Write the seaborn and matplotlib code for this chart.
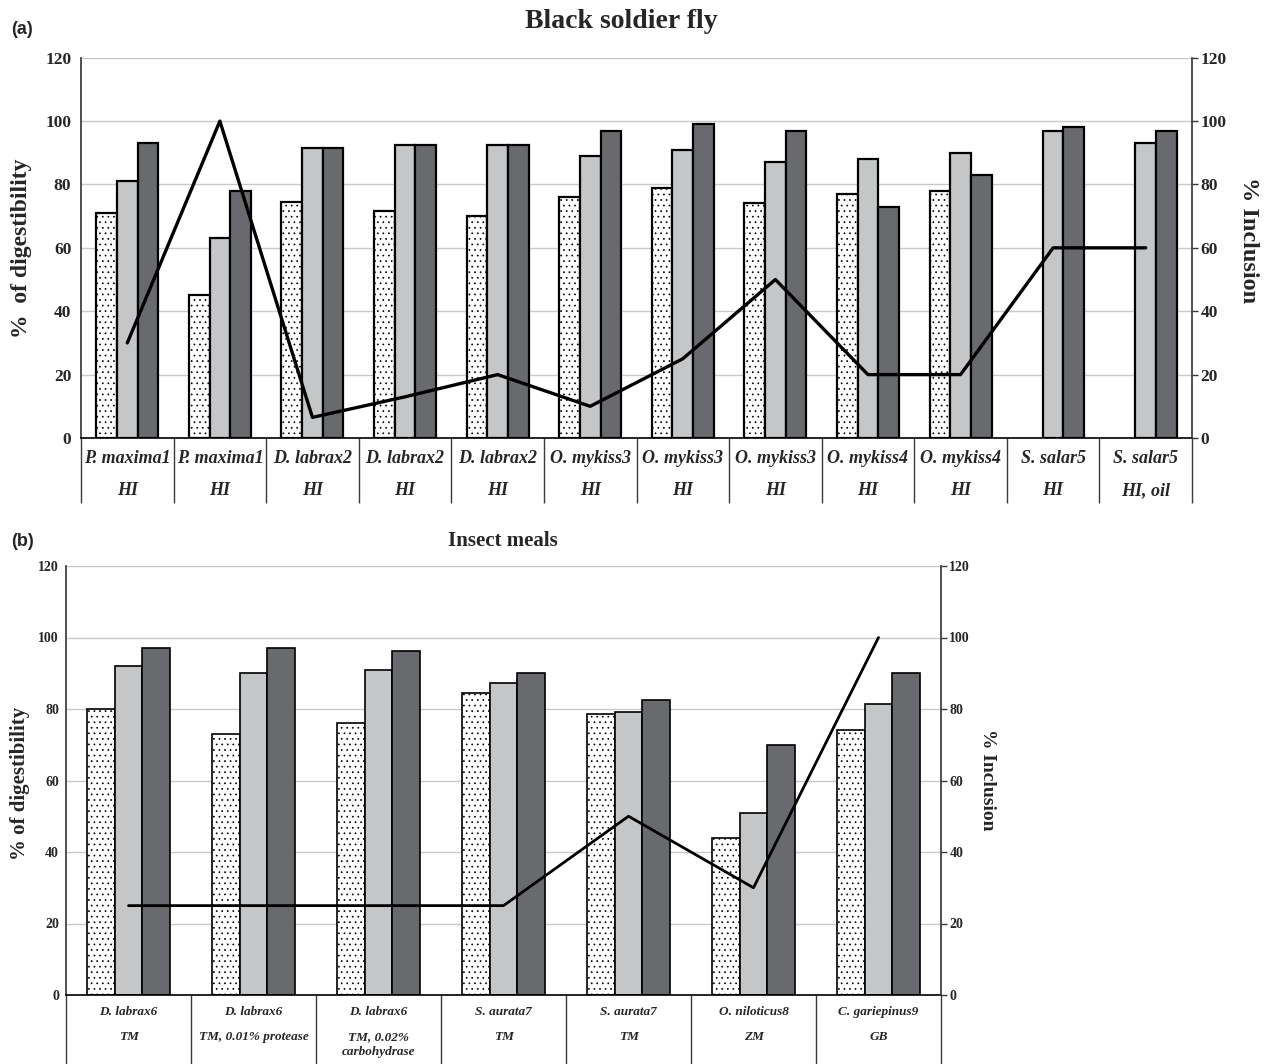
import numpy as np
import pandas as pd
import matplotlib
matplotlib.use("Agg")
import matplotlib.pyplot as plt
import seaborn as sns

# -- Data ---------------------------------------------------------------

# (a) Black soldier fly
bsf_species = ['P. maxima1', 'P. maxima1', 'D. labrax2', 'D. labrax2', 'D. labrax2',
               'O. mykiss3', 'O. mykiss3', 'O. mykiss3', 'O. mykiss4', 'O. mykiss4',
               'S. salar5', 'S. salar5']
bsf_feed = ['HI', 'HI', 'HI', 'HI', 'HI', 'HI', 'HI', 'HI', 'HI', 'HI', 'HI', 'HI, oil']
bsf_dotted = [71, 45, 74.5, 71.5, 70, 76, 79, 74, 77, 78, np.nan, np.nan]
bsf_light = [81, 63, 91.5, 92.5, 92.3, 89, 91, 87, 88, 90, 97, 93]
bsf_dark = [93, 78, 91.5, 92.5, 92.3, 97, 99, 97, 73, 83, 98, 97]
bsf_inclusion = [30, 100, 6.5, 13, 20, 10, 25, 50, 20, 20, 60, 60]

# (b) Insect meals
im_species = ['D. labrax6', 'D. labrax6', 'D. labrax6', 'S. aurata7', 'S. aurata7',
              'O. niloticus8', 'C. gariepinus9']
im_feed = ['TM', 'TM, 0.01% protease', 'TM, 0.02%\ncarbohydrase', 'TM', 'TM', 'ZM', 'GB']
im_dotted = [80, 73, 76, 84.5, 78.5, 44, 74]
im_light = [92, 90, 91, 87.4, 79.3, 50.8, 81.4]
im_dark = [97.2, 97.2, 96.2, 90, 82.5, 70, 90]
im_inclusion = [25, 25, 25, 25, 50, 30, 100]

MEASURES = ['dotted', 'light', 'dark']
BAR_COLORS = ['white', '#c5c6c8', '#696a6e']

# Global style
sns.set_theme(style="white")
plt.rcParams.update({
    'font.family': ['Liberation Serif', 'DejaVu Serif'],
    'font.weight': 'bold',
    'axes.labelweight': 'bold',
    'hatch.linewidth': 0.5,
    'hatch.color': 'black',
})

W, H = 1266, 1064


def draw_panel(ax, species, feed, values, inclusion, cfg):
    n = len(species)
    df = pd.concat([
        pd.DataFrame({'group': np.arange(n), 'measure': m, 'value': v})
        for m, v in zip(MEASURES, values)
    ]).dropna()

    sns.barplot(data=df, x='group', y='value', hue='measure', hue_order=MEASURES,
                order=list(range(n)), palette=dict(zip(MEASURES, BAR_COLORS)),
                width=0.67, saturation=1, edgecolor='black', linewidth=cfg['bar_lw'],
                legend=False, ax=ax)
    for bar in ax.containers[0]:
        bar.set_hatch('...')

    ax.set_ylim(0, 120)
    ax.set_yticks(range(0, 121, 20))
    ax.set_xlim(-0.5, n - 0.5)
    ax.set_xlabel('')
    ax.set_ylabel('')
    ax.yaxis.grid(True, color='#c9c9c9', linewidth=1)
    ax.set_axisbelow(True)
    ax.tick_params(axis='x', length=0, labelbottom=False)
    ax.tick_params(axis='y', length=0, pad=cfg['left_pad'], labelsize=cfg['tick_fs'])
    for s in ['top', 'right']:
        ax.spines[s].set_visible(False)
    ax.spines['left'].set_color('#3a3a3a')
    ax.spines['bottom'].set_color('black')
    ax.spines['bottom'].set_linewidth(1.2)

    # inclusion line on secondary axis
    ax2 = ax.twinx()
    sns.lineplot(x=np.arange(n), y=inclusion, color='black',
                 linewidth=cfg['line_lw'], ax=ax2)
    ax2.set_ylim(0, 120)
    ax2.set_yticks(range(0, 121, 20))
    ax2.set_xlim(-0.5, n - 0.5)
    ax2.tick_params(axis='y', length=4, width=1, direction='out', pad=2,
                    labelsize=cfg['tick_fs'], color='#3a3a3a')
    for s in ['top', 'left', 'bottom']:
        ax2.spines[s].set_visible(False)
    ax2.spines['right'].set_color('#3a3a3a')

    # category table under the axis
    xt = ax.get_xaxis_transform()
    ax.vlines(np.arange(n + 1) - 0.5, cfg['table_bottom'], 0, transform=xt,
              colors='#3a3a3a', linewidth=1, clip_on=False)
    for i in range(n):
        ax.text(i, cfg['species_y'], species[i], transform=xt, ha='center', va='center',
                style='italic', fontsize=cfg['cat_fs'])
        ax.text(i, cfg['feed_y'], feed[i], transform=xt, ha='center', va='top',
                style='italic', fontsize=cfg['cat_fs'], linespacing=1.25)

    ax.set_ylabel(cfg['ylabel'], fontsize=cfg['label_fs'], fontweight='bold',
                  ha='center', va='center')
    ax.yaxis.set_label_coords(*cfg['ylabel_xy'])
    ax2.set_ylabel('% Inclusion', fontsize=cfg['label_fs2'], fontweight='bold',
                   rotation=270, ha='center', va='center')
    ax2.yaxis.set_label_coords(*cfg['ylabel2_xy'])
    return ax2


fig = plt.figure(figsize=(W / 100, H / 100), dpi=100)

ax_a = fig.add_axes([81 / W, 1 - 438 / H, 1111 / W, 380.3 / H])
draw_panel(ax_a, bsf_species, bsf_feed, [bsf_dotted, bsf_light, bsf_dark], bsf_inclusion, {
    'bar_lw': 1.6, 'line_lw': 2.4, 'tick_fs': 12.5, 'left_pad': 7,
    'cat_fs': 13, 'table_bottom': -0.171, 'species_y': -0.055, 'feed_y': -0.115,
    'ylabel': '%  of digestibility', 'label_fs': 17, 'label_fs2': 17.5,
    'ylabel_xy': (-0.054, 0.50), 'ylabel2_xy': (1.0513, 0.52),
})

ax_b = fig.add_axes([66 / W, 1 - 995 / H, 875 / W, 429 / H])
draw_panel(ax_b, im_species, im_feed, [im_dotted, im_light, im_dark], im_inclusion, {
    'bar_lw': 1.2, 'line_lw': 2.0, 'tick_fs': 10, 'left_pad': 5,
    'cat_fs': 9.5, 'table_bottom': -0.17, 'species_y': -0.040, 'feed_y': -0.085,
    'ylabel': '% of digestibility', 'label_fs': 15, 'label_fs2': 14,
    'ylabel_xy': (-0.0531, 0.494), 'ylabel2_xy': (1.0526, 0.501),
})

fig.text(621 / W, 1 - 21 / H, 'Black soldier fly', ha='center', va='center', fontsize=20)
fig.text(503 / W, 1 - 541 / H, 'Insect meals', ha='center', va='center', fontsize=15)
fig.text(22 / W, 1 - 29 / H, '(a)', ha='center', va='center', fontsize=13,
         family=['Liberation Sans', 'DejaVu Sans'])
fig.text(23 / W, 1 - 542 / H, '(b)', ha='center', va='center', fontsize=13,
         family=['Liberation Sans', 'DejaVu Sans'])

fig.savefig('out.png', dpi=100)
